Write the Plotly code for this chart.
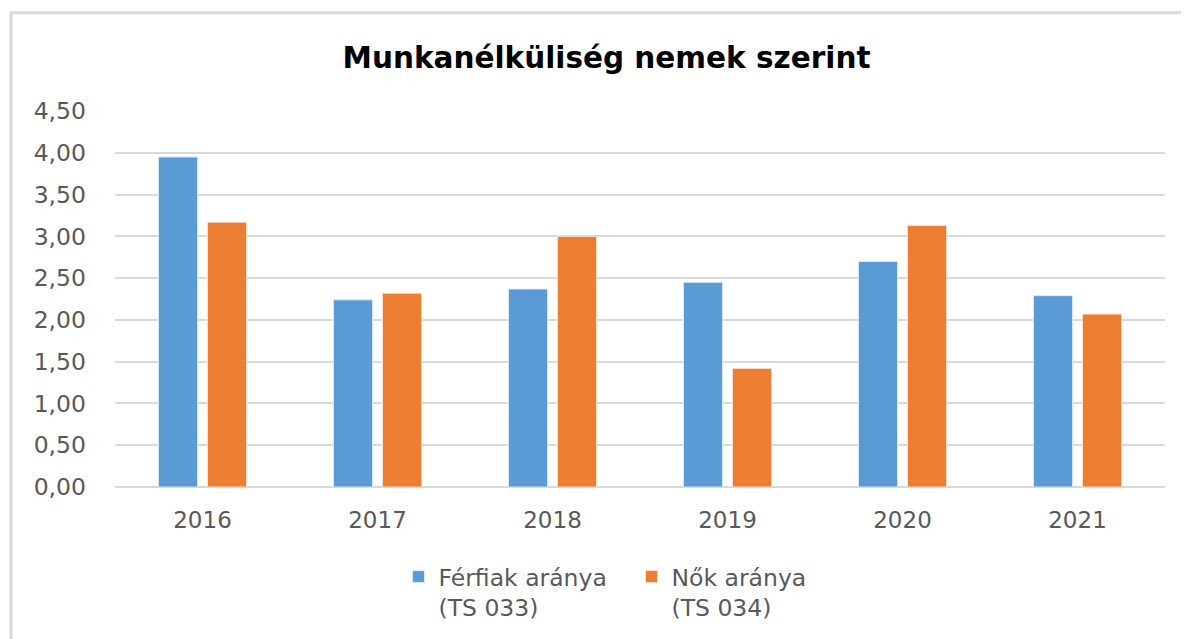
import plotly.graph_objects as go

years = ["2016", "2017", "2018", "2019", "2020", "2021"]
ferfiak = [3.95, 2.24, 2.37, 2.45, 2.70, 2.29]
nok = [3.17, 2.32, 3.00, 1.42, 3.13, 2.07]
series_names = ["Férfiak aránya<br>(TS 033)", "Nők aránya<br>(TS 034)"]
y_ticks = [0, 0.5, 1, 1.5, 2, 2.5, 3, 3.5, 4, 4.5]

BLUE = "#5B9BD5"
ORANGE = "#ED7D31"
TXT = "#595959"
FONT = "DejaVu Sans"

fig = go.Figure()
fig.add_trace(go.Bar(x=years, y=ferfiak, name=series_names[0],
                     marker=dict(color=BLUE, line=dict(color="#DDEBF7", width=1))))
fig.add_trace(go.Bar(x=years, y=nok, name=series_names[1],
                     marker=dict(color=ORANGE, line=dict(color="#FBE5D6", width=1))))

fig.update_layout(
    width=1181, height=631,
    margin=dict(l=107, r=24, t=103, b=152, autoexpand=False),
    paper_bgcolor="white", plot_bgcolor="white",
    separators=", ",
    barmode="group", bargap=0.44, bargroupgap=0.2,
    title=dict(text="<b>Munkanélküliség nemek szerint</b>",
               font=dict(family=FONT, size=29.5, color="black"),
               x=0.5068, xanchor="center", y=0.921, yanchor="middle"),
    font=dict(family=FONT, size=23, color=TXT),
    xaxis=dict(showgrid=False, showline=False, ticks="", tickfont=dict(size=23, color=TXT),
               ticklabelstandoff=17, automargin=False),
    yaxis=dict(range=[0, 4.5], tickvals=y_ticks, tickformat=".2f",
               showgrid=True, gridcolor="#D9D9D9", gridwidth=2,
               zeroline=True, zerolinecolor="#D9D9D9", zerolinewidth=2,
               showline=False, ticks="", ticklabelstandoff=28, automargin=False,
               tickfont=dict(size=23.5, color=TXT)),
    legend=dict(orientation="h", x=0.27, xanchor="left",
                yref="container", y=0.1335, yanchor="top",
                valign="top", font=dict(size=23.5, color=TXT), itemwidth=30,
                entrywidth=188, entrywidthmode="pixels",
                traceorder="normal"),
    shapes=[dict(type="rect", xref="paper", yref="paper",
                 x0=-0.099, x1=1.2, y0=-0.6, y1=1.261,
                 line=dict(color="#D9D9D9", width=3), fillcolor="rgba(0,0,0,0)",
                 layer="below")],
)

fig.write_html("out.html")
